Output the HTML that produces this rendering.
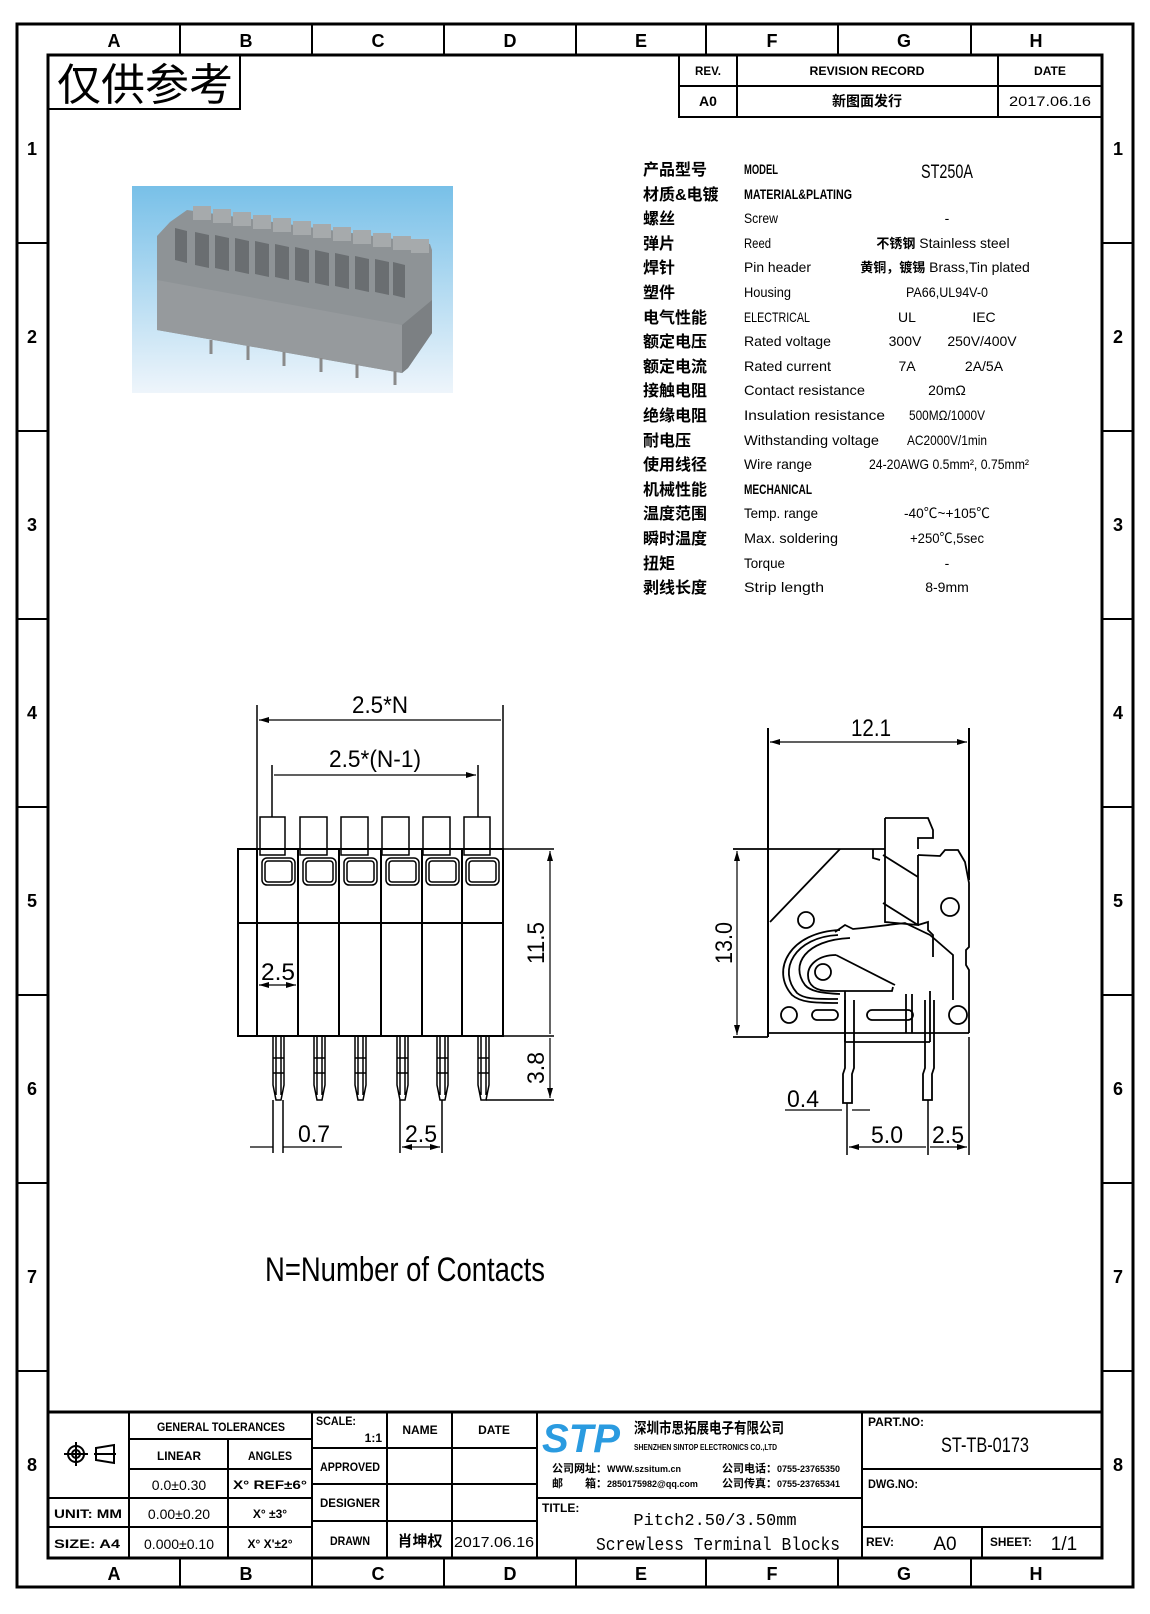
<!DOCTYPE html>
<html><head><meta charset="utf-8"><style>
html,body{margin:0;padding:0;background:#fff}
svg{display:block}
text{font-family:"Liberation Sans","Noto Sans CJK SC",sans-serif;fill:#000}
.c{font-family:"Noto Sans CJK SC","WenQuanYi Zen Hei",sans-serif;font-weight:bold}
.m{font-family:"Liberation Mono","Noto Sans CJK SC",monospace}
</style></head><body>
<svg width="1150" height="1614" viewBox="0 0 1150 1614" xmlns="http://www.w3.org/2000/svg">
<defs>
<linearGradient id="bg" x1="0" y1="0" x2="0" y2="1"><stop offset="0" stop-color="#78c0e8"/><stop offset="1" stop-color="#eef5fb"/></linearGradient>
<marker id="ar" viewBox="0 0 10 6" refX="10" refY="3" markerWidth="10" markerHeight="6" orient="auto-start-reverse" markerUnits="userSpaceOnUse"><path d="M0,0L10,3L0,6z" fill="#000"/></marker>
</defs>
<g fill="none" stroke="#000">
<rect x="17" y="24" width="1116" height="1563" stroke-width="3"/>
<rect x="48" y="55" width="1054" height="1503" stroke-width="3"/>
<g stroke-width="2">
<path d="M180 24V55M312 24V55M444 24V55M576 24V55M706 24V55M838 24V55M971 24V55"/>
<path d="M180 1558V1587M312 1558V1587M444 1558V1587M576 1558V1587M706 1558V1587M838 1558V1587M971 1558V1587"/>
<path d="M17 243H48M17 431H48M17 619H48M17 807H48M17 995H48M17 1183H48M17 1371H48"/>
<path d="M1102 243H1133M1102 431H1133M1102 619H1133M1102 807H1133M1102 995H1133M1102 1183H1133M1102 1371H1133"/>
<rect x="48" y="55" width="192" height="54"/>
<path d="M679 55V117H1102M679 86H1102M737 55V117M998 55V117"/>
</g>
</g>
<g font-size="18" font-weight="bold" text-anchor="middle">
<text x="114" y="47">A</text><text x="246" y="47">B</text><text x="378" y="47">C</text><text x="510" y="47">D</text><text x="641" y="47">E</text><text x="772" y="47">F</text><text x="904" y="47">G</text><text x="1036" y="47">H</text>
<text x="114" y="1580">A</text><text x="246" y="1580">B</text><text x="378" y="1580">C</text><text x="510" y="1580">D</text><text x="641" y="1580">E</text><text x="772" y="1580">F</text><text x="904" y="1580">G</text><text x="1036" y="1580">H</text>
<text x="32" y="155">1</text><text x="32" y="343">2</text><text x="32" y="531">3</text><text x="32" y="719">4</text><text x="32" y="907">5</text><text x="32" y="1095">6</text><text x="32" y="1283">7</text><text x="32" y="1471">8</text>
<text x="1118" y="155">1</text><text x="1118" y="343">2</text><text x="1118" y="531">3</text><text x="1118" y="719">4</text><text x="1118" y="907">5</text><text x="1118" y="1095">6</text><text x="1118" y="1283">7</text><text x="1118" y="1471">8</text>
</g>
<text x="57" y="100" font-size="44" style="font-family:'Noto Sans CJK SC',sans-serif">仅供参考</text>
<g font-size="12" font-weight="bold" text-anchor="middle">
<text x="708" y="75" textLength="26" lengthAdjust="spacingAndGlyphs">REV.</text>
<text x="867" y="75" textLength="115" lengthAdjust="spacingAndGlyphs">REVISION RECORD</text>
<text x="1050" y="75" textLength="32" lengthAdjust="spacingAndGlyphs">DATE</text>
<text x="708" y="106" font-size="14">A0</text>
<text x="867" y="106" class="c" font-size="14" font-weight="normal">新图面发行</text>
<text x="1050" y="106" font-size="14" font-weight="normal" textLength="82" lengthAdjust="spacingAndGlyphs">2017.06.16</text>
</g>
<!-- photo -->
<rect x="132" y="186" width="321" height="207" fill="url(#bg)"/>
<g>
<path d="M170 222L187 210L430 244L432 250L432 333L408 368L402 373L157 330L157 236Z" fill="#8e9396"/>
<path d="M157 280L402 325L402 373L157 330Z" fill="#969a9d"/>
<path d="M402 325L432 300L432 333L408 368L402 373Z" fill="#7c8083"/>
<g fill="#6a6e71">
<path d="M175 228l12 3v32l-12-3z"/><path d="M195 232l14 3v33l-14-3z"/><path d="M215 235l14 3v33l-14-3z"/><path d="M235 238l14 3v33l-14-3z"/><path d="M255 241l14 3v33l-14-3z"/><path d="M275 244l14 3v33l-14-3z"/><path d="M295 247l14 3v33l-14-3z"/><path d="M315 250l14 3v33l-14-3z"/><path d="M335 253l14 3v33l-14-3z"/><path d="M355 256l14 3v33l-14-3z"/><path d="M375 259l14 3v33l-14-3z"/><path d="M393 262l12 3v33l-12-3z"/>
</g>
<g fill="#a6aaac"><path d="M193 206h18v14h-18z"/><path d="M213 209h18v14h-18z"/><path d="M233 212h18v14h-18z"/><path d="M253 215h18v14h-18z"/><path d="M273 218h18v14h-18z"/><path d="M293 221h18v14h-18z"/><path d="M313 224h18v14h-18z"/><path d="M333 227h18v14h-18z"/><path d="M353 230h18v14h-18z"/><path d="M373 233h18v14h-18z"/><path d="M393 236h18v14h-18z"/><path d="M411 239h18v14h-18z"/></g>
<g stroke="#8a8a8a" stroke-width="3"><path d="M211 340v14M248 346v14M284 352v14M321 358v14M357 364v14M395 371v14"/></g>
</g>
<!-- spec table -->
<g font-size="15">
<g class="c" font-size="16">
<text x="643" y="175">产品型号</text><text x="643" y="200">材质&amp;电镀</text><text x="643" y="224">螺丝</text><text x="643" y="249">弹片</text><text x="643" y="273">焊针</text><text x="643" y="298">塑件</text><text x="643" y="323">电气性能</text><text x="643" y="347">额定电压</text><text x="643" y="372">额定电流</text><text x="643" y="396">接触电阻</text><text x="643" y="421">绝缘电阻</text><text x="643" y="446">耐电压</text><text x="643" y="470">使用线径</text><text x="643" y="495">机械性能</text><text x="643" y="519">温度范围</text><text x="643" y="544">瞬时温度</text><text x="643" y="569">扭矩</text><text x="643" y="593">剥线长度</text>
</g>
<g font-size="14">
<text x="744" y="174" font-weight="bold" textLength="34" lengthAdjust="spacingAndGlyphs">MODEL</text>
<text x="744" y="199" font-weight="bold" textLength="108" lengthAdjust="spacingAndGlyphs">MATERIAL&amp;PLATING</text>
<text x="744" y="223" textLength="34" lengthAdjust="spacingAndGlyphs">Screw</text>
<text x="744" y="248" textLength="27" lengthAdjust="spacingAndGlyphs">Reed</text>
<text x="744" y="272" textLength="67" lengthAdjust="spacingAndGlyphs">Pin header</text>
<text x="744" y="297" textLength="47" lengthAdjust="spacingAndGlyphs">Housing</text>
<text x="744" y="322" textLength="66" lengthAdjust="spacingAndGlyphs">ELECTRICAL</text>
<text x="744" y="346" textLength="87" lengthAdjust="spacingAndGlyphs">Rated voltage</text>
<text x="744" y="371" textLength="87" lengthAdjust="spacingAndGlyphs">Rated current</text>
<text x="744" y="395" textLength="121" lengthAdjust="spacingAndGlyphs">Contact resistance</text>
<text x="744" y="420" textLength="141" lengthAdjust="spacingAndGlyphs">Insulation resistance</text>
<text x="744" y="445" textLength="135" lengthAdjust="spacingAndGlyphs">Withstanding voltage</text>
<text x="744" y="469" textLength="68" lengthAdjust="spacingAndGlyphs">Wire range</text>
<text x="744" y="494" font-weight="bold" textLength="68" lengthAdjust="spacingAndGlyphs">MECHANICAL</text>
<text x="744" y="518" textLength="74" lengthAdjust="spacingAndGlyphs">Temp. range</text>
<text x="744" y="543" textLength="94" lengthAdjust="spacingAndGlyphs">Max. soldering</text>
<text x="744" y="568" textLength="41" lengthAdjust="spacingAndGlyphs">Torque</text>
<text x="744" y="592" textLength="80" lengthAdjust="spacingAndGlyphs">Strip length</text>
</g>
<g text-anchor="middle" font-size="14">
<text x="947" y="178" font-size="19" textLength="52" lengthAdjust="spacingAndGlyphs">ST250A</text>
<text x="947" y="223">-</text>
<text x="943" y="248"><tspan class="c" font-size="13">不锈钢</tspan> Stainless steel</text>
<text x="945" y="272"><tspan class="c" font-size="13">黄铜，镀锡</tspan> Brass,Tin plated</text>
<text x="947" y="297" textLength="82" lengthAdjust="spacingAndGlyphs">PA66,UL94V-0</text>
<text x="907" y="322">UL</text><text x="984" y="322">IEC</text>
<text x="905" y="346">300V</text><text x="982" y="346">250V/400V</text>
<text x="907" y="371">7A</text><text x="984" y="371">2A/5A</text>
<text x="947" y="395">20mΩ</text>
<text x="947" y="420" textLength="76" lengthAdjust="spacingAndGlyphs">500MΩ/1000V</text>
<text x="947" y="445" textLength="80" lengthAdjust="spacingAndGlyphs">AC2000V/1min</text>
<text x="949" y="469" textLength="160" lengthAdjust="spacingAndGlyphs">24-20AWG 0.5mm², 0.75mm²</text>
<text x="947" y="518" textLength="86" lengthAdjust="spacingAndGlyphs">-40℃~+105℃</text>
<text x="947" y="543" textLength="74" lengthAdjust="spacingAndGlyphs">+250℃,5sec</text>
<text x="947" y="568">-</text>
<text x="947" y="592">8-9mm</text>
</g>
</g>
<!-- front view -->
<g fill="none" stroke="#000" stroke-width="2">
<path d="M257 849V705M503 849V705M272 817V765M478 817V765" stroke-width="1.5"/>
<path d="M259 720H501M274 775H476" stroke-width="1.2" marker-start="url(#ar)" marker-end="url(#ar)"/>
<rect x="238" y="849" width="265" height="187"/>
<path d="M238 923H503M257 849V1036M298 849V1036M339 849V1036M381 849V1036M422 849V1036M462 849V1036"/>
<g stroke-width="1.5">
<rect x="260" y="817" width="25" height="38"/><rect x="300" y="817" width="27" height="38"/><rect x="341" y="817" width="27" height="38"/><rect x="382" y="817" width="27" height="38"/><rect x="423" y="817" width="27" height="38"/><rect x="464" y="817" width="26" height="38"/>
<rect x="262" y="858" width="33" height="27" rx="5"/><rect x="303" y="858" width="33" height="27" rx="5"/><rect x="344" y="858" width="33" height="27" rx="5"/><rect x="386" y="858" width="33" height="27" rx="5"/><rect x="426" y="858" width="33" height="27" rx="5"/><rect x="466" y="858" width="33" height="27" rx="5"/>
<rect x="265" y="861" width="27" height="21" rx="3"/><rect x="306" y="861" width="27" height="21" rx="3"/><rect x="347" y="861" width="27" height="21" rx="3"/><rect x="389" y="861" width="27" height="21" rx="3"/><rect x="429" y="861" width="27" height="21" rx="3"/><rect x="469" y="861" width="27" height="21" rx="3"/>
</g>
<g stroke-width="1.5">
<path d="M273 1036V1085L276 1100H281L284 1085V1036M276 1036V1095M281 1036V1095M273 1058H284M273 1073H284"/>
<path d="M314 1036V1085L317 1100H322L325 1085V1036M317 1036V1095M322 1036V1095M314 1058H325M314 1073H325"/>
<path d="M355 1036V1085L358 1100H363L366 1085V1036M358 1036V1095M363 1036V1095M355 1058H366M355 1073H366"/>
<path d="M397 1036V1085L400 1100H405L408 1085V1036M400 1036V1095M405 1036V1095M397 1058H408M397 1073H408"/>
<path d="M437 1036V1085L440 1100H445L448 1085V1036M440 1036V1095M445 1036V1095M437 1058H448M437 1073H448"/>
<path d="M478 1036V1085L481 1100H486L489 1085V1036M481 1036V1095M486 1036V1095M478 1058H489M478 1073H489"/>
</g>
<g stroke-width="1.5">
<path d="M503 849H554M503 1036H554M486 1100H554"/>
<path d="M550 851V1034M550 1038V1098" stroke-width="1.2" marker-start="url(#ar)" marker-end="url(#ar)"/>
<path d="M259 985H296" stroke-width="1.2" marker-start="url(#ar)" marker-end="url(#ar)"/>
<path d="M298 960V990"/>
<path d="M273 1100V1153M283 1100V1153M400 1100V1153M442 1100V1153"/>
<path d="M250 1147H273M283 1147H342" stroke-width="1.2"/>
<path d="M402 1147H440" stroke-width="1.2" marker-start="url(#ar)" marker-end="url(#ar)"/>
</g>
</g>
<g font-size="24" text-anchor="middle">
<text x="380" y="713" textLength="56" lengthAdjust="spacingAndGlyphs">2.5*N</text>
<text x="375" y="767" textLength="92" lengthAdjust="spacingAndGlyphs">2.5*(N-1)</text>
<text x="278" y="980" textLength="34" lengthAdjust="spacingAndGlyphs">2.5</text>
<text x="314" y="1142" textLength="32" lengthAdjust="spacingAndGlyphs">0.7</text>
<text x="421" y="1142" textLength="32" lengthAdjust="spacingAndGlyphs">2.5</text>
<text transform="translate(544,943) rotate(-90)" textLength="42" lengthAdjust="spacingAndGlyphs">11.5</text>
<text transform="translate(544,1068) rotate(-90)" textLength="32" lengthAdjust="spacingAndGlyphs">3.8</text>
<text x="871" y="736" textLength="40" lengthAdjust="spacingAndGlyphs">12.1</text>
<text transform="translate(732,943) rotate(-90)" textLength="42" lengthAdjust="spacingAndGlyphs">13.0</text>
<text x="803" y="1107" textLength="32" lengthAdjust="spacingAndGlyphs">0.4</text>
<text x="887" y="1143" textLength="32" lengthAdjust="spacingAndGlyphs">5.0</text>
<text x="948" y="1143" textLength="32" lengthAdjust="spacingAndGlyphs">2.5</text>
</g>
<!-- side view -->
<g fill="none" stroke="#000" stroke-width="1.8">
<path d="M768 1037V728M969 880V728" stroke-width="2"/>
<path d="M770 742H967" stroke-width="1.2" marker-start="url(#ar)" marker-end="url(#ar)"/>
<path d="M733 849H885M733 1037H768"/>
<path d="M737 851V1035" stroke-width="1.2" marker-start="url(#ar)" marker-end="url(#ar)"/>
<path d="M840 849L770 922"/>
<path d="M873 849V858L880 860"/>
<path d="M885 818H928L933 830V838H918V849"/>
<path d="M885 818V922L918 925V855M883 855L918 877M883 903L918 925"/>
<path d="M918 855L940 856L945 850L958 850L965 862L969 883V947L966 950V965L969 970V1033"/>
<path d="M918 925L928 922V930L933 935V957"/>
<path d="M768 1033H969"/>
<circle cx="806" cy="920" r="8"/>
<circle cx="950" cy="907" r="9"/>
<circle cx="823" cy="972" r="8"/>
<path d="M835 932L845 925L853 929L863 928L905 923L930 935L953 955V1000"/>
<path d="M840 930C790 932 770 970 792 995C800 1002 812 1003 838 1003"/>
<path d="M838 935C795 937 777 970 797 993C804 999 814 999 838 999"/>
<path d="M850 938C805 940 790 965 805 985C810 991 820 993 840 994"/>
<path d="M836 955C818 955 808 965 808 975C808 985 815 991 830 991H892L893 987"/>
<path d="M836 955L895 985"/>
<path d="M845 991V1042M930 991V1042M845 1042H930"/>
<path d="M906 994V1033M912 994V1033"/>
<circle cx="789" cy="1015" r="8"/>
<circle cx="958" cy="1015" r="9"/>
<rect x="812" y="1010" width="26" height="10" rx="5"/>
<rect x="867" y="1010" width="46" height="10" rx="5"/>
<path d="M845 1000V1068L843 1074V1103H852V1074L854 1068V1000"/>
<path d="M925 1000V1068L923 1074V1100H932V1074L934 1068V1000"/>
<path d="M847 1103V1155M928 1100V1155M969 1037V1155" stroke-width="1.5"/>
<path d="M785 1110H842M852 1110H870" stroke-width="1.2"/>
<path d="M849 1147H926M930 1147H967" stroke-width="1.2" marker-start="url(#ar)" marker-end="url(#ar)"/>
</g>
<text x="265" y="1281" font-size="34" textLength="280" lengthAdjust="spacingAndGlyphs">N=Number of Contacts</text>
<!-- title block -->
<g fill="none" stroke="#000" stroke-width="2">
<path d="M48 1412H1102" stroke-width="3"/>
<path d="M129 1412V1558M228 1439V1558M312 1412V1558M387 1412V1558M452 1412V1558M537 1412V1558M862 1412V1558M982 1527V1558"/>
<path d="M129 1439H312M129 1469H312M48 1498H312M48 1527H312"/>
<path d="M312 1448H537M312 1484H537M312 1521H537"/>
<path d="M537 1498H862M862 1469H1102M862 1527H1102"/>
<circle cx="76" cy="1454" r="8"/><circle cx="76" cy="1454" r="4"/><path d="M76 1442V1466M64 1454H88M96 1448L114 1445V1463L96 1460ZM94 1454H116"/>
</g>
<g font-size="12" font-weight="bold">
<text x="221" y="1431" text-anchor="middle" textLength="128" lengthAdjust="spacingAndGlyphs">GENERAL TOLERANCES</text>
<text x="179" y="1460" text-anchor="middle" textLength="44" lengthAdjust="spacingAndGlyphs">LINEAR</text>
<text x="270" y="1460" text-anchor="middle" textLength="44" lengthAdjust="spacingAndGlyphs">ANGLES</text>
<text x="179" y="1490" text-anchor="middle" font-size="14" font-weight="normal">0.0±0.30</text>
<text x="270" y="1489" text-anchor="middle" textLength="74" lengthAdjust="spacingAndGlyphs">X° REF±6°</text>
<text x="54" y="1518" textLength="68" lengthAdjust="spacingAndGlyphs">UNIT: MM</text>
<text x="179" y="1519" text-anchor="middle" font-size="14" font-weight="normal">0.00±0.20</text>
<text x="270" y="1518" text-anchor="middle">X° ±3°</text>
<text x="54" y="1548" textLength="66" lengthAdjust="spacingAndGlyphs">SIZE: A4</text>
<text x="179" y="1549" text-anchor="middle" font-size="14" font-weight="normal">0.000±0.10</text>
<text x="270" y="1548" text-anchor="middle">X° X'±2°</text>
<text x="316" y="1425" textLength="40" lengthAdjust="spacingAndGlyphs">SCALE:</text>
<text x="382" y="1442" text-anchor="end">1:1</text>
<text x="420" y="1434" text-anchor="middle">NAME</text>
<text x="494" y="1434" text-anchor="middle">DATE</text>
<text x="350" y="1471" text-anchor="middle" textLength="60" lengthAdjust="spacingAndGlyphs">APPROVED</text>
<text x="350" y="1507" text-anchor="middle" textLength="60" lengthAdjust="spacingAndGlyphs">DESIGNER</text>
<text x="350" y="1545" text-anchor="middle" textLength="40" lengthAdjust="spacingAndGlyphs">DRAWN</text>
<text x="420" y="1546" text-anchor="middle" class="c" font-size="15" font-weight="normal">肖坤权</text>
<text x="494" y="1547" text-anchor="middle" font-size="15" font-weight="normal" textLength="80" lengthAdjust="spacingAndGlyphs">2017.06.16</text>
<text x="542" y="1512">TITLE:</text>
<text x="868" y="1426" textLength="56" lengthAdjust="spacingAndGlyphs">PART.NO:</text>
<text x="868" y="1488" textLength="50" lengthAdjust="spacingAndGlyphs">DWG.NO:</text>
<text x="866" y="1546">REV:</text>
<text x="990" y="1546" textLength="42" lengthAdjust="spacingAndGlyphs">SHEET:</text>
</g>
<text x="715" y="1525" class="m" font-size="17" text-anchor="middle">Pitch2.50/3.50mm</text>
<text x="718" y="1550" class="m" font-size="18" text-anchor="middle" textLength="244" lengthAdjust="spacingAndGlyphs">Screwless Terminal Blocks</text>
<text x="985" y="1452" font-size="21" text-anchor="middle" textLength="88" lengthAdjust="spacingAndGlyphs">ST-TB-0173</text>
<text x="945" y="1550" font-size="19" text-anchor="middle">A0</text>
<text x="1064" y="1550" font-size="19" text-anchor="middle">1/1</text>
<!-- logo -->
<text x="542" y="1452" font-size="40" font-weight="bold" font-style="italic" textLength="78" lengthAdjust="spacingAndGlyphs" style="fill:#2a9be0">STP</text>
<text x="634" y="1433" class="c" font-size="15" textLength="150" lengthAdjust="spacingAndGlyphs">深圳市思拓展电子有限公司</text>
<text x="634" y="1450" font-size="8" font-weight="bold" textLength="143" lengthAdjust="spacingAndGlyphs">SHENZHEN SINTOP ELECTRONICS CO.,LTD</text>
<g font-size="9" font-weight="bold">
<text x="552" y="1472"><tspan class="c" font-size="11">公司网址：</tspan>WWW.szsitum.cn</text>
<text x="552" y="1487"><tspan class="c" font-size="11">邮　　箱：</tspan>2850175982@qq.com</text>
<text x="722" y="1472"><tspan class="c" font-size="11">公司电话：</tspan>0755-23765350</text>
<text x="722" y="1487"><tspan class="c" font-size="11">公司传真：</tspan>0755-23765341</text>
</g>
</svg>
</body></html>
